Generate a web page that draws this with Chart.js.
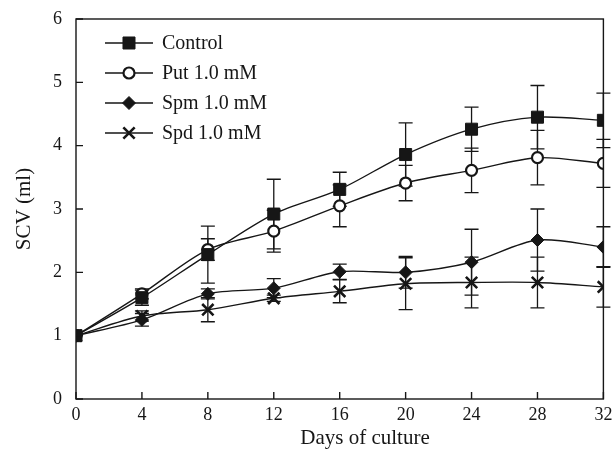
<!DOCTYPE html>
<html>
<head>
<meta charset="utf-8">
<script src="https://cdn.jsdelivr.net/npm/chart.js@4"></script>
<style>
html,body{margin:0;padding:0;background:#fff;}
#wrap{width:614px;height:452px;}
</style>
</head>
<body>
<div id="wrap"><canvas id="c" width="614" height="452"></canvas></div>
<script>
const days = [0, 4, 8, 12, 16, 20, 24, 28, 32];
const xTicks = [0, 4, 8, 12, 16, 20, 24, 28, 32];
const yTicks = [0, 1, 2, 3, 4, 5, 6];
const seriesNames = ['Control', 'Put 1.0 mM', 'Spm 1.0 mM', 'Spd 1.0 mM'];
const xTitle = 'Days of culture';
const yTitle = 'SCV (ml)';

const control    = [1.0, 1.60, 2.28, 2.92, 3.31, 3.86, 4.26, 4.45, 4.40];
const controlErr = [0, 0.12, 0.45, 0.55, 0.27, 0.50, 0.35, 0.50, 0.43];
const put        = [1.0, 1.66, 2.36, 2.65, 3.05, 3.41, 3.61, 3.81, 3.72];
const putErr     = [0, 0.08, 0.17, 0.33, 0.33, 0.28, 0.35, 0.43, 0.38];
const spm        = [1.0, 1.25, 1.66, 1.75, 2.01, 2.00, 2.16, 2.51, 2.40];
const spmErr     = [0, 0.10, 0.08, 0.15, 0.12, 0.25, 0.52, 0.49, 0.32];
const spd        = [1.0, 1.31, 1.41, 1.59, 1.70, 1.82, 1.84, 1.84, 1.77];
const spdErr     = [0, 0.08, 0.19, 0.05, 0.18, 0.41, 0.40, 0.40, 0.32];

const INK = '#161616';
const FONT = "'Liberation Serif', 'Times New Roman', serif";

function pts(vals){ return days.map((d,i)=>({x:d, y:vals[i]})); }

const datasets = [
  {label: seriesNames[0], data: pts(control), errs: controlErr, pointStyle:'rect', pointRadius:8.5, backgroundColor:INK, pointBorderColor:INK, pointBorderWidth:1},
  {label: seriesNames[1], data: pts(put), errs: putErr, pointStyle:'circle', pointRadius:5.5, backgroundColor:'#fff', pointBorderColor:INK, pointBorderWidth:2.2},
  {label: seriesNames[2], data: pts(spm), errs: spmErr, pointStyle:'rectRot', pointRadius:6.5, backgroundColor:INK, pointBorderColor:INK, pointBorderWidth:1},
  {label: seriesNames[3], data: pts(spd), errs: spdErr, pointStyle:'crossRot', pointRadius:8, backgroundColor:INK, pointBorderColor:INK, pointBorderWidth:2.6}
].map(d => Object.assign({
  borderColor: INK, borderWidth: 1.4, tension: 0.3, fill: false,
  pointBackgroundColor: d.backgroundColor, pointHoverRadius: d.pointRadius
}, d));

const decor = {
  id: 'decor',
  beforeDatasetsDraw(chart){
    const ctx = chart.ctx, xs = chart.scales.x, ys = chart.scales.y;
    ctx.save();
    ctx.strokeStyle = INK; ctx.lineWidth = 1.3;
    chart.data.datasets.forEach(ds => {
      ds.data.forEach((p,i) => {
        const e = ds.errs[i]; if (!e) return;
        const px = xs.getPixelForValue(p.x);
        const top = ys.getPixelForValue(p.y + e), bot = ys.getPixelForValue(p.y - e);
        ctx.beginPath();
        ctx.moveTo(px, top); ctx.lineTo(px, bot);
        ctx.moveTo(px-7, top); ctx.lineTo(px+7, top);
        ctx.moveTo(px-7, bot); ctx.lineTo(px+7, bot);
        ctx.stroke();
      });
    });
    ctx.restore();
  },
  afterDraw(chart){
    const ctx = chart.ctx, a = chart.chartArea, xs = chart.scales.x, ys = chart.scales.y;
    ctx.save();
    ctx.strokeStyle = INK; ctx.lineWidth = 1.4;
    ctx.strokeRect(a.left, a.top, a.right - a.left, a.bottom - a.top);
    ctx.beginPath();
    xTicks.forEach(v => { const px = xs.getPixelForValue(v); ctx.moveTo(px, a.bottom); ctx.lineTo(px, a.bottom - 7); });
    yTicks.forEach(v => { const py = ys.getPixelForValue(v); ctx.moveTo(a.left, py); ctx.lineTo(a.left + 7, py); });
    ctx.stroke();
    // x-axis title (offset to the right as in the reference)
    ctx.font = "21px " + FONT; ctx.fillStyle = INK; ctx.textAlign = 'center'; ctx.textBaseline = 'middle';
    ctx.fillText(xTitle, 365, 438);
    // legend
    const x0 = 105, x1 = 153, tx = 162, y0 = 43, dy = 30;
    ctx.font = "20px " + FONT; ctx.fillStyle = INK; ctx.textBaseline = 'middle'; ctx.textAlign = 'left';
    chart.data.datasets.forEach((ds, i) => {
      const y = y0 + i*dy;
      ctx.beginPath(); ctx.lineWidth = 1.4; ctx.moveTo(x0, y); ctx.lineTo(x1, y); ctx.stroke();
      ctx.save();
      ctx.lineWidth = ds.pointBorderWidth; ctx.strokeStyle = INK; ctx.fillStyle = ds.pointBackgroundColor;
      Chart.helpers.drawPoint(ctx, {pointStyle: ds.pointStyle, radius: ds.pointRadius, rotation: 0, borderWidth: ds.pointBorderWidth}, (x0+x1)/2, y);
      ctx.restore();
      ctx.fillStyle = INK;
      ctx.fillText(ds.label, tx, y + 1);
    });
    ctx.restore();
  }
};

new Chart(document.getElementById('c'), {
  type: 'line',
  data: { datasets },
  options: {
    responsive: false, animation: false, devicePixelRatio: 1,
    layout: { padding: { top: 19, right: 8, left: 0, bottom: 0 } },
    plugins: { legend: { display: false }, tooltip: { enabled: false } },
    scales: {
      x: {
        type: 'linear', min: 0, max: 32,
        afterBuildTicks: s => { s.ticks = xTicks.map(v => ({value: v})); },
        afterFit: s => { s.height = 53; s.paddingLeft = 0; s.paddingRight = 0; },
        grid: { display: false, drawTicks: false },
        border: { display: false },
        ticks: { color: INK, font: { family: FONT, size: 18 }, padding: 5, maxRotation: 0, autoSkip: false },
        title: { display: false }
      },
      y: {
        type: 'linear', min: 0, max: 6,
        afterBuildTicks: s => { s.ticks = yTicks.map(v => ({value: v})); },
        afterFit: s => { s.width = 76; s.paddingTop = 0; s.paddingBottom = 0; },
        grid: { display: false, drawTicks: false },
        border: { display: false },
        ticks: { color: INK, font: { family: FONT, size: 18 }, padding: 14 },
        title: { display: true, text: yTitle, color: INK, font: { family: FONT, size: 21 }, padding: { top: 12, bottom: 0 } }
      }
    }
  },
  plugins: [decor]
});
</script>
</body>
</html>
